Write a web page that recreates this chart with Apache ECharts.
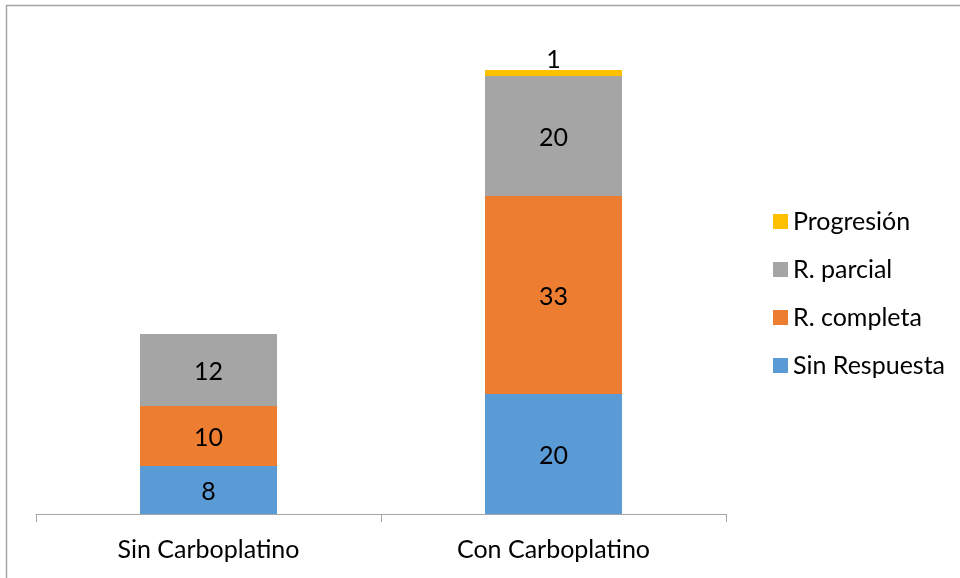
<!DOCTYPE html>
<html>
<head>
<meta charset="utf-8">
<script src="https://cdn.jsdelivr.net/npm/echarts@6/dist/echarts.min.js"></script>
<style>
  html, body { margin: 0; padding: 0; background: #fff; }
  #chart { width: 960px; height: 578px; }
</style>
</head>
<body>
<div id="chart"></div>
<script>
// Categories and stacked response counts
const categories = ['Sin Carboplatino', 'Con Carboplatino'];
const sinRespuesta = [8, 20];
const rCompleta = [10, 33];
const rParcial = [12, 20];
const progresion = [null, 1];

const seriesNames = ['Sin Respuesta', 'R. completa', 'R. parcial', 'Progresión'];
const seriesColors = ['#5B9BD5', '#ED7D31', '#A5A5A5', '#FFC000'];
const seriesValues = [sinRespuesta, rCompleta, rParcial, progresion];

const FONT = 'Lato';
const FS = 25;

const chart = echarts.init(document.getElementById('chart'));

const series = seriesValues.map((vals, i) => ({
  name: seriesNames[i],
  type: 'bar',
  stack: 'total',
  barWidth: 137,
  data: vals,
  itemStyle: { color: seriesColors[i] },
  label: {
    show: true,
    position: i === 3 ? 'top' : 'inside',
    distance: 0,
    offset: [0, 2],
    color: '#000',
    fontFamily: FONT,
    fontSize: FS
  }
}));

chart.setOption({
  animation: false,
  backgroundColor: '#fff',
  graphic: [{
    type: 'rect',
    shape: { x: 6.5, y: 5.5, width: 1000, height: 1000 },
    style: { fill: 'none', stroke: '#A6A6A6', lineWidth: 1.5 },
    silent: true
  }],
  grid: { left: 36, right: 234, top: 34, bottom: 64 },
  legend: {
    orient: 'vertical',
    left: 768,
    top: 204,
    itemWidth: 15,
    itemHeight: 15,
    itemGap: 23,
    icon: 'rect',
    textStyle: { fontFamily: FONT, fontSize: FS, color: '#000' },
    data: seriesNames.slice().reverse()
  },
  xAxis: {
    type: 'category',
    data: categories,
    axisLine: { lineStyle: { color: '#A6A6A6', width: 1 } },
    axisTick: { show: true, length: 8, lineStyle: { color: '#A6A6A6' } },
    axisLabel: { fontFamily: FONT, fontSize: FS, color: '#000', margin: 23 }
  },
  yAxis: {
    type: 'value',
    min: 0,
    max: 80,
    show: false
  },
  series: series
});
</script>
</body>
</html>
